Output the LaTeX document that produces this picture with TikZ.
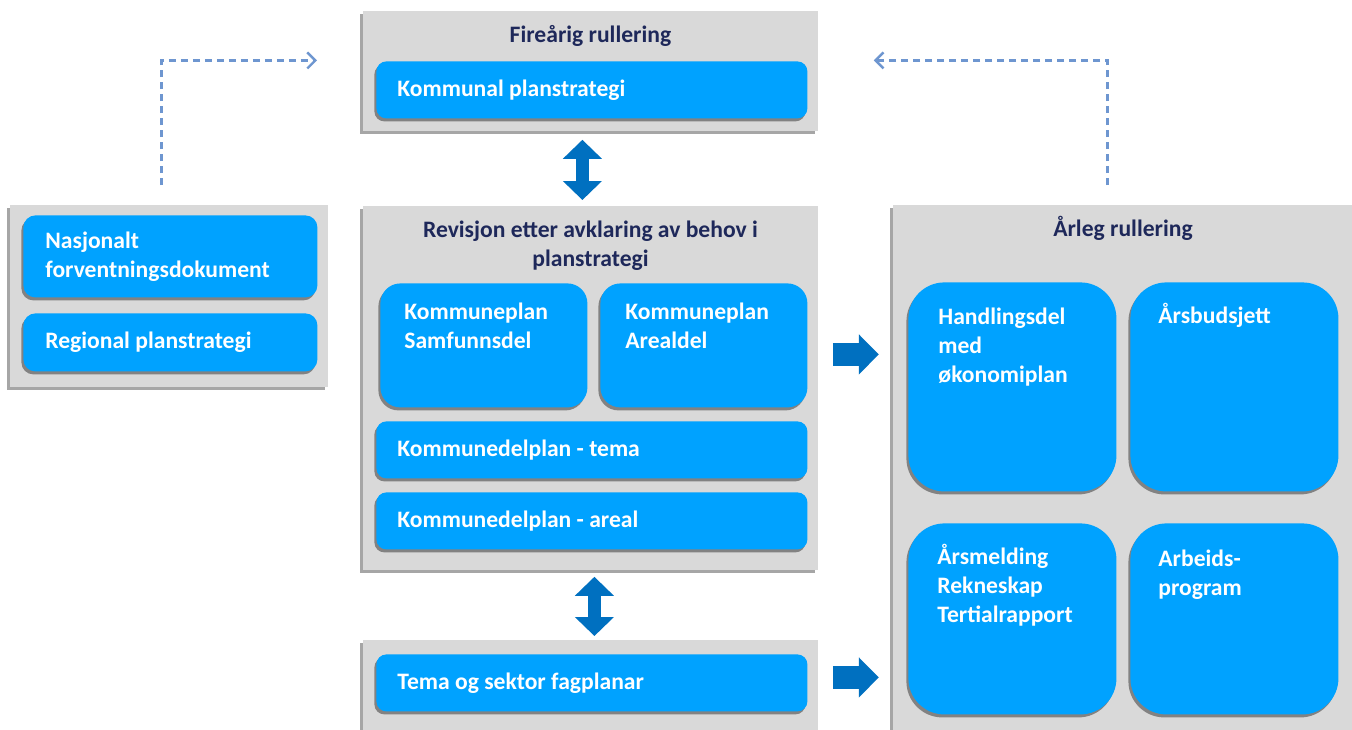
\documentclass[tikz,border=0pt]{standalone}
\usepackage{fontspec}
\setmainfont{Carlito}
\usetikzlibrary{positioning,shadows,arrows.meta}

\definecolor{panelgray}{RGB}{217,217,217}
\definecolor{boxblue}{RGB}{0,162,255}
\definecolor{arrowblue}{RGB}{0,112,192}
\definecolor{dashblue}{RGB}{110,150,208}
\definecolor{headnavy}{RGB}{30,40,90}

\begin{document}
\begin{tikzpicture}[x=0.5pt,y=-0.5pt,
font=\fontsize{11.8pt}{14.5pt}\selectfont\bfseries,
panel/.style={fill=panelgray,anchor=north west,inner sep=0pt,
    drop shadow={shadow xshift=-1.5pt,shadow yshift=-1.5pt,opacity=.35,fill=black}},
blubox/.style={fill=boxblue,anchor=north west,inner sep=0pt,text=white,
    drop shadow={shadow xshift=-1pt,shadow yshift=-1.5pt,opacity=.4,fill=black}},
widebox/.style={blubox,rounded corners=5pt,minimum width=215.5pt,minimum height=28.5pt,
    inner xsep=10.5pt,text width=194.5pt,align=flush left},
leftbox/.style={blubox,rounded corners=6pt,minimum width=147pt,
    inner xsep=11pt,text width=125pt,align=flush left},
midbox/.style={blubox,rounded corners=10pt,minimum width=103.5pt,minimum height=62pt},
bigbox/.style={blubox,rounded corners=18pt,minimum width=104pt},
boxtext/.style={text=white,anchor=base west,inner sep=0pt,text width=90pt,align=flush left},
heading/.style={text=headnavy,anchor=base,inner sep=0pt},
dblarrow/.style={draw=arrowblue,line width=6.5pt,
    {Triangle[width=19pt,length=9.5pt]}-{Triangle[width=19pt,length=9.5pt]}},
sglarrow/.style={draw=arrowblue,line width=11.5pt,-{Triangle[width=19.5pt,length=10pt]}},
dasharrow/.style={draw=dashblue,line width=1.2pt,dash pattern=on 3.5pt off 2.5pt,
    -{Straight Barb[length=4pt,width=8pt]}}]
\useasboundingbox (0,0) rectangle (1352,729);
\clip (0,0) rectangle (1352,729);
\fill[white] (0,0) rectangle (1352,729);

% grey panels
\node[panel,minimum width=227.5pt,minimum height=60pt] (ptop) at (363,11) {};
\node[panel,minimum width=159pt,minimum height=91pt] (pleft) at (10,205) {};
\node[panel,minimum width=227.5pt,minimum height=182pt] (pmid) at (363,206) {};
\node[panel,minimum width=227.5pt,minimum height=50pt] (pbot) at (363,640) {};
\node[panel,minimum width=235pt,minimum height=265pt] (pright) at (893,205) {};

\node[heading] (thead) at (590.5,42) {Fireårig rullering};
\node[heading,align=flush center,text width=220pt] (mhead) at (590.5,237)
    {Revisjon etter avklaring av behov i\\planstrategi};
\node[heading] (rhead) at (1123,236) {Årleg rullering};

% blue boxes
\node[widebox] (kps) at (376,61) {Kommunal planstrategi};
\node[leftbox,minimum height=41pt] (nasj) at (23,215) {Nasjonalt\\forventningsdokument};
\node[leftbox,minimum height=29pt] (regp) at (23,313) {Regional planstrategi};
\node[midbox] (samf) at (380,283) {};
\node[midbox] (areal) at (600,283) {};
\node[widebox] (kdtema) at (376,421) {Kommunedelplan - tema};
\node[widebox] (kdareal) at (376,492) {Kommunedelplan - areal};
\node[widebox] (fagpl) at (376,654) {Tema og sektor fagplanar};
\node[bigbox,minimum height=104.5pt] (handl) at (908,282) {};
\node[bigbox,minimum height=104.5pt] (budsj) at (1130,282) {};
\node[bigbox,minimum height=95.5pt] (aarsm) at (908,523) {};
\node[bigbox,minimum height=95.5pt] (arbp) at (1130,523) {};

\node[boxtext] (samf-t) at (404,319) {Kommuneplan\\Samfunnsdel};
\node[boxtext] (areal-t) at (625,319) {Kommuneplan\\Arealdel};
\node[boxtext] (handl-t) at (938,324) {Handlingsdel\\med\\økonomiplan};
\node[boxtext] (budsj-t) at (1158,323) {Årsbudsjett};
\node[boxtext] (aarsm-t) at (937,564) {Årsmelding\\Rekneskap\\Tertialrapport};
\node[boxtext] (arbp-t) at (1158,566) {Arbeids-\\program};

% arrows
\draw[dblarrow] ([xshift=-4.25pt,yshift=-4pt]ptop.south) -- ([xshift=-4.25pt,yshift=3pt]pmid.north);
\draw[dblarrow] ([xshift=1.75pt,yshift=-3pt]pmid.south) -- ([xshift=1.75pt,yshift=2pt]pbot.north);
\draw[sglarrow] ([xshift=7pt,yshift=17pt]pmid.east) -- ++(46,0);
\draw[sglarrow] ([xshift=7pt,yshift=6.5pt]pbot.east) -- ++(46,0);

\draw[dasharrow] ([xshift=-4pt,yshift=10pt]pleft.north) |- ([xshift=-23pt,yshift=5.5pt]ptop.west);
\draw[dasharrow] ([xshift=-10.5pt,yshift=10pt]pright.north) |- ([xshift=27.5pt,yshift=5.5pt]ptop.east);
\end{tikzpicture}
\end{document}
